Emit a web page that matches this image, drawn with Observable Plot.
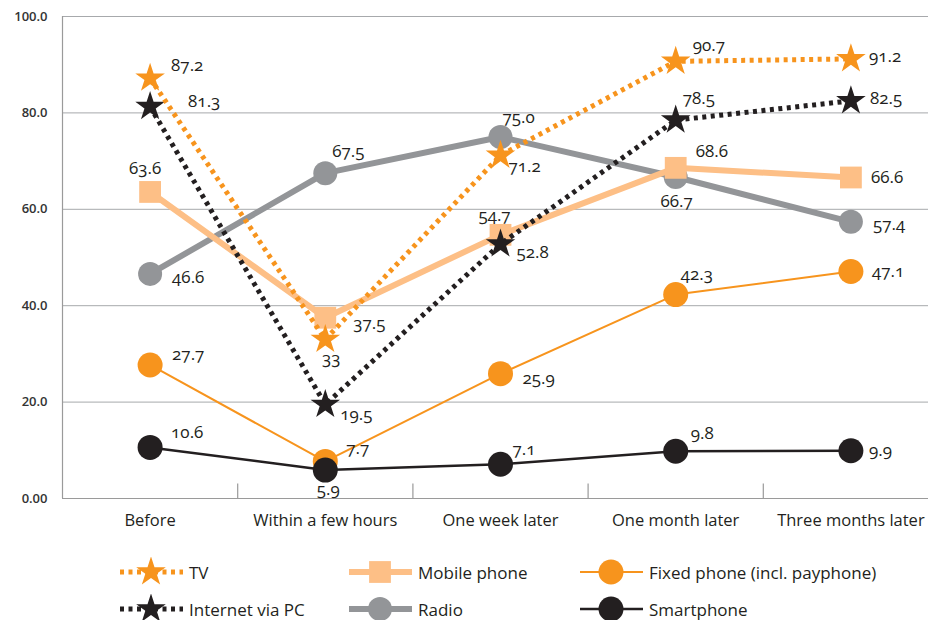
<!DOCTYPE html>
<html><head><meta charset="utf-8">
<script src="https://cdn.jsdelivr.net/npm/d3@7"></script>
<script src="https://cdn.jsdelivr.net/npm/@observablehq/plot@0.6"></script>
<style>
body{margin:0;background:#fff;overflow:hidden;font-family:"Open Sans",sans-serif;color:#231f20;}
#legend{position:relative;width:928px;height:85px;}
.item{position:absolute;display:flex;align-items:center;font-size:17px;height:30px;}
.item svg{display:block;}
.item span{margin-left:6px;}
</style></head><body>
<div id="chart"></div>
<div id="legend"></div>
<script>
const categories = ["Before", "Within a few hours", "One week later", "One month later", "Three months later"];
const yTicks = [0, 20, 40, 60, 80, 100];
const yTickLabels = ["0.00", "20.0", "40.0", "60.0", "80.0", "100.0"];

const tvValues = [87.2, 33, 71.2, 90.7, 91.2];
const internetValues = [81.3, 19.5, 52.8, 78.5, 82.5];
const mobileValues = [63.6, 37.5, 54.7, 68.6, 66.6];
const radioValues = [46.6, 67.5, 75.0, 66.7, 57.4];
const fixedValues = [27.7, 7.7, 25.9, 42.3, 47.1];
const smartphoneValues = [10.6, 5.9, 7.1, 9.8, 9.9];

// label placement nudges (px): [dx, dy, anchor]
const tvNudge = [[21,-13,"start"],[6,19,"middle"],[8,11,"start"],[17,-16,"start"],[18,-2,"start"]];
const internetNudge = [[38,-5,"start"],[15,10,"start"],[16,9,"start"],[7,-22,"start"],[19,-2,"start"]];
const mobileNudge = [[-5,-23,"middle"],[28,6,"start"],[-6,-19,"middle"],[20,-16,"start"],[20,0,"start"]];
const radioNudge = [[22,4,"start"],[7,-22,"start"],[2,-19,"start"],[1,25,"middle"],[22,3,"start"]];
const fixedNudge = [[22,-10,"start"],[21,-13,"start"],[22,5,"start"],[5,-20,"start"],[21,0,"start"]];
const smartphoneNudge = [[21,-15,"start"],[3,19,"middle"],[12,-15,"start"],[15,-18,"start"],[18,0,"start"]];

const ORANGE = "#f7941d", LIGHT = "#fdbf86", GRAY = "#939598", BLACK = "#231f20";

// drawing order: bottom to top
const series = [
  {name: "Radio", values: radioValues, nudge: radioNudge, color: GRAY, width: 6, dash: null, symbol: "circle", r: 12, fmt: d3.format(".1f")},
  {name: "Mobile phone", values: mobileValues, nudge: mobileNudge, color: LIGHT, width: 6, dash: null, symbol: "square", r: 12.3, fmt: d3.format(".1f")},
  {name: "Fixed phone (incl. payphone)", values: fixedValues, nudge: fixedNudge, color: ORANGE, width: 2, dash: null, symbol: "circle", r: 12.5, fmt: d3.format(".1f")},
  {name: "Smartphone", values: smartphoneValues, nudge: smartphoneNudge, color: BLACK, width: 2.5, dash: null, symbol: "circle", r: 12.5, fmt: d3.format(".1f")},
  {name: "Internet via PC", values: internetValues, nudge: internetNudge, color: BLACK, width: 5, dash: "4,4.5", symbol: "star", r: 9.3, fmt: d => String(d)},
  {name: "TV", values: tvValues, nudge: tvNudge, color: ORANGE, width: 5, dash: "4,4.5", symbol: "star", r: 9.3, fmt: d => String(d)}
];

const marks = [
  Plot.ruleY(yTicks.slice(1), {x1: -0.5, x2: 4.5, stroke: "#a7a9ac", strokeWidth: 1}),
  Plot.ruleY([0], {x1: -0.5, x2: 4.5, stroke: "#9a9a9a", strokeWidth: 1.2}),
  Plot.ruleX([-0.5], {y1: 0, y2: 100, stroke: "#9a9a9a", strokeWidth: 1.2}),
  Plot.ruleX([0.5, 1.5, 2.5, 3.5], {y1: 0, y2: 3, stroke: "#9a9a9a", strokeWidth: 1.2}),
  Plot.axisY({ticks: yTicks, tickFormat: d => yTickLabels[yTicks.indexOf(d)], tickSize: 0, tickPadding: 15, fontSize: 13, fontWeight: 600, label: null, fill: "#333"}),
  Plot.axisX({ticks: [0,1,2,3,4], tickFormat: i => categories[i], tickSize: 0, tickPadding: 16, fontSize: 16.5, label: null, fill: "#231f20"})
];

for (const s of series) {
  const data = s.values.map((v, i) => ({i, v}));
  marks.push(Plot.line(data, {x: "i", y: "v", stroke: s.color, strokeWidth: s.width, strokeDasharray: s.dash, strokeLinecap: "butt", strokeLinejoin: "miter"}));
  marks.push(Plot.dot(data, {x: "i", y: "v", symbol: s.symbol, r: s.r, fill: s.color, stroke: "none"}));
}
for (const s of series) {
  s.values.forEach((v, i) => {
    const [dx, dy, anchor] = s.nudge[i];
    marks.push(Plot.text([{i, v}], {x: "i", y: "v", text: d => s.fmt(d.v), dx, dy, textAnchor: anchor, fontSize: 17, fill: "#231f20"}));
  });
}

const chart = Plot.plot({
  width: 928,
  height: 535,
  marginTop: 16,
  marginBottom: 37,
  marginLeft: 62,
  marginRight: 0,
  style: {fontFamily: "'Open Sans', sans-serif", fontVariantNumeric: "oldstyle-nums", background: "#fff", overflow: "visible"},
  x: {type: "linear", domain: [-0.5, 4.5], range: [62, 938]},
  y: {domain: [0, 100]},
  marks
});
document.getElementById("chart").append(chart);

// legend
const legendItems = [
  {s: series[5], left: 120, top: 22},
  {s: series[1], left: 349, top: 22},
  {s: series[2], left: 580, top: 22},
  {s: series[4], left: 120, top: 59},
  {s: series[0], left: 349, top: 59},
  {s: series[3], left: 580, top: 59}
];
const legend = d3.select("#legend");
for (const it of legendItems) {
  const s = it.s;
  const div = legend.append("div").attr("class", "item").style("left", it.left + "px").style("top", it.top + "px");
  const svg = div.append("svg").attr("width", 63).attr("height", 30);
  svg.append("line").attr("x1", 0).attr("x2", 63).attr("y1", 15).attr("y2", 15)
    .attr("stroke", s.color).attr("stroke-width", s.width).attr("stroke-dasharray", s.dash);
  const sym = {circle: d3.symbolCircle, square: d3.symbolSquare, star: d3.symbolStar}[s.symbol];
  svg.append("path").attr("transform", "translate(31,15)").attr("d", d3.symbol(sym, Math.PI * s.r * s.r)()).attr("fill", s.color);
  div.append("span").text(s.name);
}
</script>
</body></html>
